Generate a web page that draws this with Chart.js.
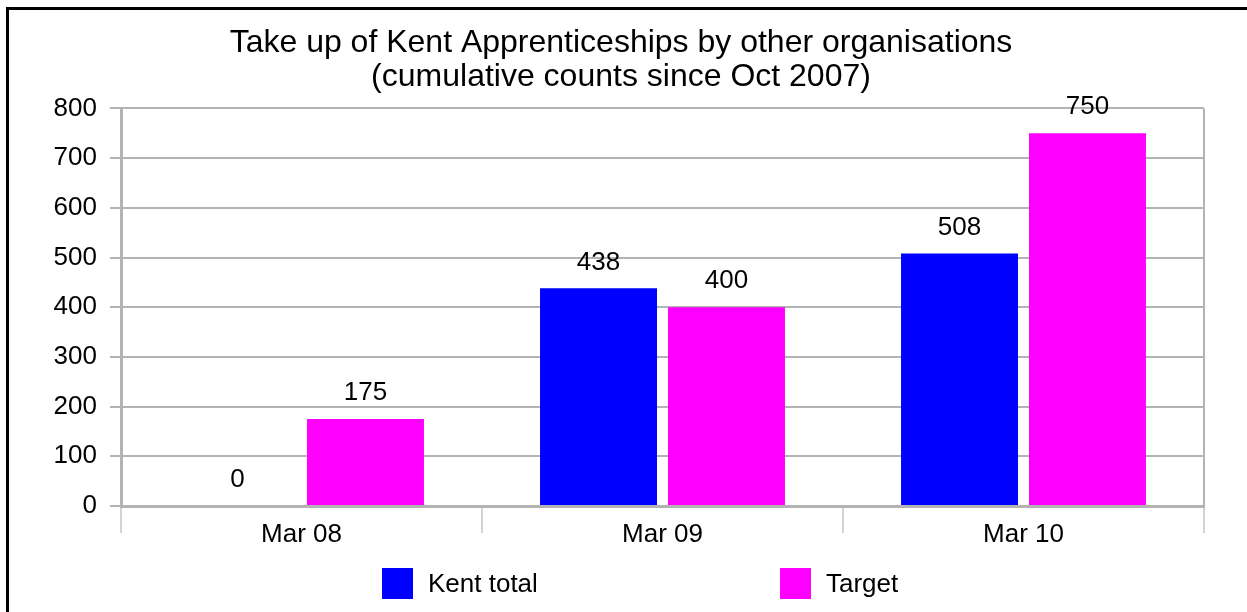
<!DOCTYPE html>
<html>
<head>
<meta charset="utf-8">
<script src="https://cdn.jsdelivr.net/npm/chart.js@4.4.0/dist/chart.umd.min.js"></script>
<style>
    html, body { margin: 0; padding: 0; background: #fff; overflow: hidden; }
    #frame { position: absolute; left: 6px; top: 7px; width: 1300px; height: 700px;
             border-left: 3px solid #000; border-top: 3px solid #000; }
    #wrap { position: absolute; left: 0; top: 0; width: 1247px; height: 612px; }
    .legend-item { position: absolute; top: 568px; height: 31px; display: flex; align-items: center;
                   font-family: 'Liberation Sans', Arial, sans-serif; font-size: 26px; color: #000; }
    .legend-item .square { width: 31px; height: 31px; margin-right: 15px; }
</style>
</head>
<body>
<div id="frame"></div>
<div id="wrap"><canvas id="barChart" width="1247" height="612"></canvas></div>
<div class="legend-item" style="left:382px"><span class="square" style="background:#0000ff"></span><span>Kent total</span></div>
<div class="legend-item" style="left:780px"><span class="square" style="background:#ff00ff"></span><span>Target</span></div>
<script>
    // data
    const categories = ['Mar 08', 'Mar 09', 'Mar 10'];
    const kentTotal = [0, 438, 508];
    const target = [175, 400, 750];
    const yTicks = [0, 100, 200, 300, 400, 500, 600, 700, 800];

    const gridGrey = '#b3b3b3';
    const fontFamily = "'Liberation Sans', Arial, sans-serif";

    // numbers above each bar
    const barLabels = {
        id: 'barLabels',
        afterDatasetsDraw(chart) {
            const ctx = chart.ctx;
            ctx.save();
            ctx.font = '26px ' + fontFamily;
            ctx.fillStyle = '#000';
            ctx.textAlign = 'center';
            ctx.textBaseline = 'middle';
            chart.data.datasets.forEach((ds, i) => {
                chart.getDatasetMeta(i).data.forEach((bar, j) => {
                    ctx.fillText(String(ds.data[j]), bar.x, bar.y - 26);
                });
            });
            ctx.restore();
        }
    };

    new Chart(document.getElementById('barChart'), {
        type: 'bar',
        data: {
            labels: categories,
            datasets: [{
                label: 'Kent total',
                data: kentTotal,
                backgroundColor: '#0000ff',
                categoryPercentage: 0.709,
                barPercentage: 0.914
            }, {
                label: 'Target',
                data: target,
                backgroundColor: '#ff00ff',
                categoryPercentage: 0.709,
                barPercentage: 0.914
            }]
        },
        options: {
            responsive: false,
            animation: false,
            layout: { padding: { left: 38, right: 43, top: 0, bottom: 46 } },
            plugins: {
                legend: { display: false },
                tooltip: { enabled: false },
                title: {
                    display: true,
                    text: ['Take up of Kent Apprenticeships by other organisations', '(cumulative counts since Oct 2007)'],
                    color: '#000',
                    font: { family: fontFamily, size: 32, weight: 'normal', lineHeight: 1.07 },
                    padding: { top: 26, bottom: 14 }
                }
            },
            scales: {
                x: {
                    afterFit: s => { s.height = 60; },
                    grid: {
                        offset: true,
                        lineWidth: 2,
                        color: c => (c.index === undefined || c.index === 0) ? gridGrey : 'rgba(0,0,0,0)',
                        tickColor: '#c4c4c4',
                        tickWidth: 1.5,
                        tickLength: 27
                    },
                    border: { display: true, color: gridGrey, width: 3 },
                    ticks: { color: '#000', padding: -14, font: { family: fontFamily, size: 26 } }
                },
                y: {
                    min: 0,
                    max: 800,
                    afterFit: s => { s.width = 83; },
                    afterBuildTicks: s => { s.ticks = yTicks.map(v => ({ value: v })); },
                    grid: { color: gridGrey, lineWidth: 2, tickLength: 11 },
                    border: { display: true, color: gridGrey, width: 3 },
                    ticks: { color: '#000', padding: 13, font: { family: fontFamily, size: 26 } }
                }
            }
        },
        plugins: [barLabels]
    });
</script>
</body>
</html>
